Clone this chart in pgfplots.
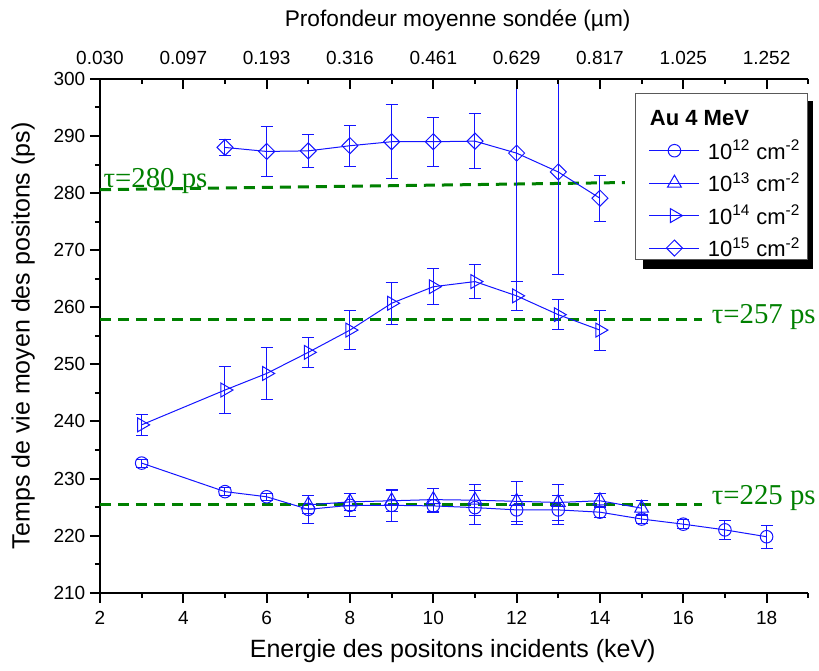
\documentclass[border=0pt]{standalone}
\usepackage{pgfplots}
\pgfplotsset{compat=1.18}
\usepackage{pgfplotstable}
\usepackage{fontspec}
\setmainfont{Liberation Sans}
\newfontfamily\serifgr{Liberation Serif}
\definecolor{tgreen}{RGB}{0,128,0}
\definecolor{dblue}{RGB}{20,20,255}

\pgfplotstableread{
x y e
3 232.7 0.7
5 227.7 0.7
6 226.8 0.6
7 224.6 2.4
8 225.3 2.0
9 225.3 2.8
10 225.2 1.2
11 224.9 3.0
12 224.5 2.6
13 224.5 2.5
14 224.1 1.0
15 222.9 0.8
16 222.0 0.8
17 221.0 1.6
18 219.8 2.0
}\dataA

\pgfplotstableread{
x y e
7 225.4 1.6
8 225.9 1.5
9 226.1 1.8
10 226.3 2.0
11 226.2 2.7
12 226.0 3.5
13 225.8 3.2
14 226.1 1.2
15 224.8 1.3
}\dataB

\pgfplotstableread{
x y e
3 239.4 1.9
5 245.5 4.1
6 248.4 4.6
7 252.1 2.6
8 256.0 3.4
9 260.7 3.7
10 263.6 3.2
11 264.5 3.0
12 262.0 2.6
13 258.7 2.6
14 256.0 3.5
}\dataC

\pgfplotstableread{
x y e
5 288.0 1.4
6 287.3 4.4
7 287.4 2.9
8 288.3 3.6
9 289.0 6.5
10 289.0 4.3
11 289.1 4.8
12 287.0 27.5
13 283.7 18.0
14 279.1 4.0
}\dataD

\pgfplotsset{
  errstyle/.style={error bars/.cd, y dir=both, y explicit,
    error bar style={line width=0.75pt, dblue},
    error mark options={rotate=90, dblue, mark size=4.5pt, line width=0.75pt}},
}

\begin{document}
\begin{tikzpicture}
\path[use as bounding box] (-75pt,-58.7pt) rectangle (539.25pt,444.5pt);
\begin{axis}[
  at={(0,0)}, anchor=south west,
  scale only axis, width=531.2pt, height=385.3pt,
  xmin=2, xmax=19, ymin=210, ymax=300,
  clip mode=individual,
  axis x line*=bottom, axis y line*=left,
  axis line style={-, line width=1.5pt},
  xtick={2,4,...,18}, minor xtick={3,5,...,19},
  ytick={210,220,...,300}, minor ytick={215,225,...,295},
  tick align=outside,
  major tick length=7.5pt, minor tick length=3.75pt,
  every tick/.style={black, line width=1.5pt},
  tick label style={font=\fontsize{14.25}{16}\selectfont},
  xticklabel style={yshift=-3pt},
  /pgf/number format/assume math mode=true,
  xlabel={Energie des positons incidents (keV)},
  ylabel={Temps de vie moyen des positons (ps)},
  label style={font=\fontsize{18.75}{22}\selectfont},
  xlabel style={at={(axis description cs:0.498,-0.127)}, anchor=base},
  ylabel style={at={(axis description cs:-0.0993,0.5)}, anchor=base},
  legend style={at={(axis description cs:0.7553,0.972)}, anchor=north west,
    draw=black!65, line width=0.75pt, fill=white,
    font=\fontsize{16.5}{19}\selectfont,
    nodes={inner sep=0.5pt, text depth=0.15em},
    inner xsep=4.75pt, inner ysep=0.5pt, row sep=7.5pt, column sep=5.5pt},
  legend cell align=left,
  legend image code/.code={
    \path[draw=none, fill=none] (0pt,0pt) -- (43.25pt,0pt);
    \draw[mark repeat=2, mark phase=2, #1] plot coordinates {(5.75pt,0pt) (24.5pt,0pt) (43.25pt,0pt)};},
]
\addlegendimage{legend image code/.code={\path[draw=none, fill=none] (0pt,-8pt) -- (43.25pt,18.25pt);}}
\addlegendentry{\hspace*{-43.5pt}\textbf{Au 4 MeV}}

% legend shadow
\fill[black] (axis description cs:0.7666,0.630) rectangle (axis description cs:1.006,0.957);

\addplot[tgreen, line width=2.25pt, dash pattern=on 8.25pt off 5.25pt, forget plot] coordinates {(2,280.6) (14.6,281.85)};
\addplot[tgreen, line width=2.25pt, dash pattern=on 8.25pt off 5.25pt, forget plot] coordinates {(2,257.9) (16.44,257.9)};
\addplot[tgreen, line width=2.25pt, dash pattern=on 8.25pt off 5.25pt, forget plot] coordinates {(2,225.4) (16.44,225.4)};

\addplot[dblue, line width=0.75pt, mark=o, mark size=4.7pt, mark options={solid, dblue}, errstyle]
  table[x=x, y=y, y error=e] {\dataA};
\addlegendentry{10\textsuperscript{12} cm\textsuperscript{-2}}

\addplot[dblue, line width=0.75pt, mark=triangle, mark size=6pt, mark options={solid, dblue}, errstyle]
  table[x=x, y=y, y error=e] {\dataB};
\addlegendentry{10\textsuperscript{13} cm\textsuperscript{-2}}

\addplot[dblue, line width=0.75pt, mark=triangle, mark size=6pt, mark options={solid, dblue, rotate=-90}, errstyle]
  table[x=x, y=y, y error=e] {\dataC};
\addlegendentry{10\textsuperscript{14} cm\textsuperscript{-2}}

\addplot[dblue, line width=0.75pt, mark=square, mark size=4.24pt, mark options={solid, dblue, rotate=45}, errstyle]
  table[x=x, y=y, y error=e] {\dataD};
\addlegendentry{10\textsuperscript{15} cm\textsuperscript{-2}}

\coordinate (t280) at (axis cs:2.08,280.9);
\coordinate (t257) at (axis cs:16.68,257.2);
\coordinate (t225) at (axis cs:16.68,225.4);
\end{axis}

\begin{axis}[
  at={(0,0)}, anchor=south west,
  scale only axis, width=531.2pt, height=385.3pt,
  xmin=2, xmax=19, ymin=210, ymax=300,
  axis x line*=top, axis y line=none,
  axis line style={-, line width=1.5pt},
  xtick={2,4,...,18}, minor xtick={3,5,...,19},
  xticklabels={0.030,0.097,0.193,0.316,0.461,0.629,0.817,1.025,1.252},
  tick align=inside,
  major tick length=7.5pt, minor tick length=3.75pt,
  every tick/.style={black, line width=1.5pt},
  tick label style={font=\fontsize{14.25}{16}\selectfont},
  xticklabel style={yshift=7.5pt},
  xlabel={Profondeur moyenne sondée (µm)},
  xlabel style={font=\fontsize{17}{20}\selectfont, at={(axis description cs:0.505,1.102)}, anchor=base},
]
\end{axis}

\node[anchor=base west, inner sep=0pt, text=tgreen, font=\serifgr\fontsize{21.6}{24}\selectfont] at (t280) {τ=280 ps};
\node[anchor=base west, inner sep=0pt, text=tgreen, font=\serifgr\fontsize{21.6}{24}\selectfont] at (t257) {τ=257 ps};
\node[anchor=base west, inner sep=0pt, text=tgreen, font=\serifgr\fontsize{21.6}{24}\selectfont] at (t225) {τ=225 ps};
\end{tikzpicture}
\end{document}
